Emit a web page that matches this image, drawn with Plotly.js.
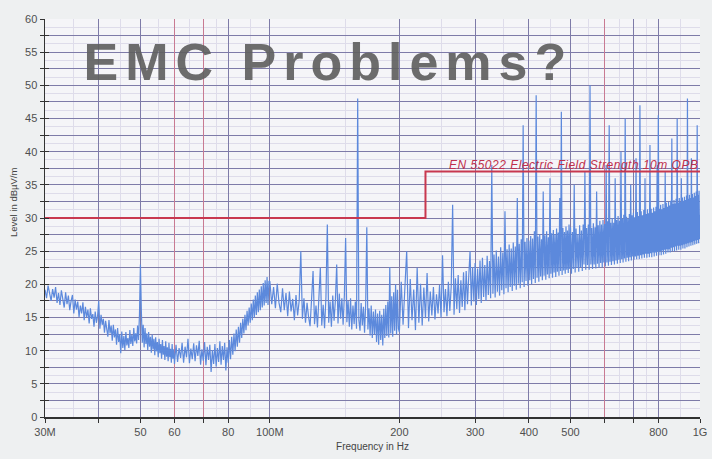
<!DOCTYPE html>
<html>
<head>
<meta charset="utf-8">
<script src="https://cdn.plot.ly/plotly-3.0.1.min.js"></script>
<style>
html,body{margin:0;padding:0;background:#eef0f1;}
#chart{width:712px;height:459px;}
.annotation[data-index="0"] .annotation-text{letter-spacing:7px;}
.annotation[data-index="1"] .annotation-text{letter-spacing:0.5px;}
</style>
</head>
<body>
<div id="chart"></div>
<script>
// ---- data (frequencies in MHz, levels in dBµV/m) ----
const freqMHz = [
30,30.25,30.5,30.75,31,31.25,31.5,31.75,32,32.25,
32.5,32.75,33,33.25,33.5,33.75,34,34.25,34.5,34.75,
35,35.25,35.5,35.75,36,36.25,36.5,36.75,37,37.25,
37.5,37.75,38,38.25,38.5,38.75,39,39.25,39.5,39.75,
40,40.25,40.5,40.75,41,41.25,41.5,41.75,42,42.25,
42.5,42.75,43,43.25,43.5,43.75,44,44.25,44.5,44.75,
45,45.25,45.5,45.75,46,46.25,46.5,46.75,47,47.25,
47.5,47.75,48,48.25,48.5,48.75,49,49.25,49.5,49.75,
50,50.25,50.5,50.75,51,51.25,51.5,51.75,52,52.25,
52.5,52.75,53,53.25,53.5,53.75,54,54.25,54.5,54.75,
55,55.25,55.5,55.75,56,56.25,56.5,56.75,57,57.25,
57.5,57.75,58,58.25,58.5,58.75,59,59.25,59.5,59.75,
60,
60.5,61,61.5,62,62.5,63,63.5,64,64.5,65,
65.5,66,66.5,67,67.5,68,68.5,69,69.5,70,
70.5,71,71.5,72,72.5,73,73.5,74,74.5,75,
75.5,76,76.5,77,77.5,78,78.5,79,79.5,80,
80.5,81,81.5,82,82.5,83,83.5,84,84.5,85,
85.5,86,86.5,87,87.5,88,88.5,89,89.5,90,
90.5,91,91.5,92,92.5,93,93.5,94,94.5,95,
95.5,96,96.5,97,97.5,98,98.5,99,99.5,
100,101,102,103,104,105,106,107,108,109,
110,111,112,113,114,115,116,117,118,119,
120,121,122,123,124,125,126,127,128,129,
130,131,132,133,134,135,136,137,138,139,
140,141,142,143,144,145,146,147,148,149,
150,151,152,153,154,155,156,157,158,159,
160,161,162,163,164,165,166,167,168,169,
170,171,172,173,174,175,176,177,178,179,
180,181,182,183,184,185,186,187,188,189,
190,191,192,193,194,195,196,197,198,199,
200,202,204,206,208,210,212,214,216,218,
220,222,224,226,228,230,232,234,236,238,
240,242,244,246,248,250,252,254,256,258,
260,262,264,266,268,270,272,274,276,278,
280,282,284,286,288,290,292,294,296,298,
300,302,304,306,308,310,312,314,316,318,
320,322,324,326,328,330,332,334,336,338,
340,342,344,346,348,350,352,354,356,358,
360,362,364,366,368,370,372,374,376,378,
380,382,384,386,388,390,392,394,396,398,
400,402,404,406,408,410,412,414,416,418,
420,422,424,426,428,430,432,434,436,438,
440,442,444,446,448,450,452,454,456,458,
460,462,464,466,468,470,472,474,476,478,
480,482,484,486,488,490,492,494,496,498,
500,502.5,505,507.5,510,512.5,515,517.5,520,522.5,
525,527.5,530,532.5,535,537.5,540,542.5,545,547.5,
550,552.5,555,557.5,560,562.5,565,567.5,570,572.5,
575,577.5,580,582.5,585,587.5,590,592.5,595,597.5,
600,602.5,605,607.5,610,612.5,615,617.5,620,622.5,
625,627.5,630,632.5,635,637.5,640,642.5,645,647.5,
650,652.5,655,657.5,660,662.5,665,667.5,670,672.5,
675,677.5,680,682.5,685,687.5,690,692.5,695,697.5,
700,702.5,705,707.5,710,712.5,715,717.5,720,722.5,
725,727.5,730,732.5,735,737.5,740,742.5,745,747.5,
750,752.5,755,757.5,760,762.5,765,767.5,770,772.5,
775,777.5,780,782.5,785,787.5,790,792.5,795,797.5,
800,802.5,805,807.5,810,812.5,815,817.5,820,822.5,
825,827.5,830,832.5,835,837.5,840,842.5,845,847.5,
850,852.5,855,857.5,860,862.5,865,867.5,870,872.5,
875,877.5,880,882.5,885,887.5,890,892.5,895,897.5,
900,902.5,905,907.5,910,912.5,915,917.5,920,922.5,
925,927.5,930,932.5,935,937.5,940,942.5,945,947.5,
950,952.5,955,957.5,960,962.5,965,967.5,970,972.5,
975,977.5,980,982.5,985,987.5,990,992.5,995,997.5,
1000
];
const levelDb = [
19.2,17.9,19.8,18.4,17.5,19.3,18.0,19.6,17.2,18.7,
16.9,19.1,17.6,16.5,18.8,17.0,18.3,16.1,17.5,18.4,
15.6,17.7,16.2,17.4,15.1,16.8,15.6,17.3,14.6,16.6,
15.0,16.2,14.1,16.4,14.8,15.5,13.6,15.9,14.2,15.2,
17.5,13.3,15.4,13.9,14.8,12.7,14.5,13.2,12.1,14.6,
12.6,13.8,11.5,13.9,12.0,13.2,10.9,13.4,11.3,12.5,
9.6,12.9,10.4,12.2,10.1,12.8,10.8,11.9,10.4,13.1,
11.0,12.4,10.7,13.4,11.4,12.6,11.1,13.8,11.6,15.5,
23.0,16.0,11.2,13.9,10.5,13.4,11.0,12.6,10.1,12.8,
10.6,12.1,9.7,12.4,10.2,11.8,9.3,12.0,9.9,11.3,
9.0,11.8,9.6,11.0,8.8,11.6,9.4,10.7,8.6,11.4,
9.1,10.5,8.4,11.2,9.0,10.3,8.2,11.0,8.8,10.2,
8.0,
10.9,8.3,10.4,8.9,11.2,8.2,10.6,9.0,11.8,8.1,
10.3,8.7,11.1,8.4,10.8,9.2,11.5,7.9,10.2,8.5,
11.3,7.8,10.6,8.6,10.9,6.8,10.1,8.0,11.0,7.6,
10.4,8.3,11.4,7.9,10.7,8.6,11.2,7.0,10.5,8.2,
11.6,8.7,12.1,9.4,12.6,9.9,13.2,10.6,13.6,11.2,
14.2,11.9,14.8,12.6,15.4,13.1,16.0,13.8,16.5,14.2,
17.1,14.6,17.7,15.0,18.3,15.4,18.8,15.8,19.2,16.1,
19.7,16.5,20.2,16.8,20.6,17.2,21.1,16.9,20.5,
20.4,17.0,19.6,16.4,20.1,17.2,15.8,19.4,16.1,18.7,
15.2,18.9,15.9,17.8,14.6,18.4,15.3,17.6,25.0,14.8,
17.9,14.2,17.2,15.1,13.7,17.8,22.0,14.0,16.8,13.5,
17.5,22.5,13.8,16.9,13.4,18.1,29.0,14.2,17.4,13.6,
18.3,14.5,17.6,23.0,14.1,18.6,14.8,17.9,13.9,18.4,
27.0,14.3,17.5,13.6,17.9,13.2,16.8,14.0,17.4,13.3,
48.0,14.6,13.0,17.2,13.8,16.6,12.7,17.0,28.6,13.2,
16.4,12.3,16.8,11.9,15.9,12.4,16.2,11.3,15.6,10.9,
16.0,11.6,15.4,10.8,16.3,11.9,16.9,12.2,17.4,12.0,
22.6,12.6,18.2,12.1,18.8,13.0,20.0,12.4,19.2,13.3,
12.8,20.4,13.9,19.6,25.0,13.4,20.8,14.6,19.2,13.1,
22.5,14.2,20.1,13.8,19.5,14.9,21.7,14.4,18.9,15.3,
19.6,14.7,18.5,15.6,19.9,15.0,24.4,15.8,19.3,15.2,
20.4,16.0,19.7,32.0,15.4,20.9,16.3,21.4,15.7,20.6,
16.6,21.8,16.1,22.0,17.0,21.3,25.0,16.8,22.6,17.4,
23.2,16.9,22.4,17.8,23.6,17.2,24.0,18.1,22.9,17.5,
24.3,18.4,23.5,17.9,38.0,18.6,24.5,18.0,25.1,18.9,
24.2,18.3,25.6,19.1,24.8,18.5,31.0,19.4,25.3,18.8,
26.0,19.6,25.4,19.0,26.3,19.8,25.7,19.2,33.0,20.1,
26.1,19.4,26.8,20.3,44.0,19.6,26.4,20.5,27.0,19.8,
26.6,20.6,27.3,20.0,26.9,20.8,28.0,20.2,48.5,21.0,
27.2,20.4,27.6,21.2,26.8,20.6,34.0,21.3,27.4,20.7,
28.0,21.5,27.1,20.9,36.0,21.6,27.7,21.0,28.2,21.8,
27.5,21.1,28.4,21.9,27.8,21.3,33.0,22.0,46.0,21.4,
28.5,22.1,27.9,21.6,28.7,22.2,28.1,21.7,29.0,22.3,
28.6,21.6,27.9,22.3,35.0,21.8,28.4,22.5,27.6,21.9,
28.9,22.6,28.1,22.0,29.0,23.0,37.0,22.2,28.5,22.9,
29.0,22.2,50.0,23.0,28.5,22.3,29.2,23.0,28.6,22.4,
34.0,23.1,28.9,22.5,29.6,23.2,29.0,22.6,29.7,23.3,
29.1,22.7,38.0,23.3,29.5,22.8,44.0,23.4,29.3,22.9,
30.0,23.5,29.3,23.0,36.0,23.6,29.7,23.1,30.3,23.7,
29.6,23.2,40.0,23.8,29.9,23.3,30.5,23.9,45.0,23.4,
30.2,24.0,29.9,23.5,30.6,24.1,35.0,23.6,30.4,24.2,
30.8,23.7,30.1,24.2,39.0,23.8,30.9,24.3,30.3,23.8,
47.0,24.4,31.0,23.9,30.4,24.5,31.2,24.0,36.0,24.6,
30.6,24.0,31.3,24.6,30.7,24.1,41.0,24.7,31.4,24.1,
30.8,24.8,31.6,24.2,31.0,24.8,31.7,24.3,38.0,24.9,
45.5,24.4,31.4,25.0,32.0,24.4,31.3,25.1,32.1,24.5,
31.5,25.2,37.0,24.6,32.3,25.3,31.7,24.8,32.4,25.3,
31.9,24.8,32.6,25.5,42.0,25.0,32.1,25.6,32.7,25.0,
32.2,25.7,32.9,25.1,45.0,25.8,32.3,25.2,33.0,25.8,
32.4,25.2,36.0,25.9,33.1,25.4,32.6,26.0,33.2,25.4,
32.7,26.1,33.4,25.6,48.0,26.2,32.9,25.7,33.5,26.3,
33.0,25.8,39.0,26.4,33.6,25.9,33.1,26.5,33.8,26.0,
33.3,26.6,34.0,26.1,44.0,26.7,33.5,26.2,34.1,26.8,
30.5
];
const limitFreq = [30, 230, 230, 1000];
const limitLevel = [30, 30, 37, 37];
const xTickVals = [30,40,50,60,70,80,100,200,300,400,500,600,700,800,1000];
const xTickText = ['30M','','50','60','','80','100M','200','300','400','500','','','800','1G'];
const xRedGridVals = [60,70,600];
const xFaintGridVals = [35,45,55,65,75,90,150,250,350,450,550,650,750,900];
const yTickVals = [0,2.5,5,7.5,10,12.5,15,17.5,20,22.5,25,27.5,30,32.5,35,37.5,40,42.5,45,47.5,50,52.5,55,57.5,60];
const yTickText = ['0','','5','','10','','15','','20','','25','','30','','35','','40','','45','','50','','55','','60'];
const titleText = 'EMC Problems?';
const limitLabel = 'EN 55022 Electric Field Strength 10m QPB';
const yTitleText = 'Level in dBµV/m';
const xTitleText = 'Frequency in Hz';

const FONT = 'Liberation Sans, Arial, sans-serif';
const xr = [Math.log10(30), Math.log10(1000)];
const yr = [0, 60];

const traces = [
  {x: freqMHz, y: levelDb, type: 'scatter', mode: 'lines',
   line: {color: '#5c89dc', width: 1.2}, hoverinfo: 'skip', xaxis: 'x', yaxis: 'y'},
  {x: limitFreq, y: limitLevel, type: 'scatter', mode: 'lines',
   line: {color: '#c8384f', width: 2}, hoverinfo: 'skip', xaxis: 'x2', yaxis: 'y2'}
];

const layout = {
  width: 712, height: 459,
  margin: {l: 45, r: 12, t: 19, b: 42},
  paper_bgcolor: '#eef0f1',
  plot_bgcolor: '#f5f5f8',
  showlegend: false,
  font: {family: FONT, color: '#4a4a4a', size: 11},
  xaxis: {
    type: 'log', range: xr, tickmode: 'array', tickvals: xTickVals, ticktext: xTickText,
    ticks: 'outside', ticklen: 4, tickcolor: '#333', tickfont: {size: 11, color: '#4f4f4f'},
    showgrid: true, gridcolor: '#7e7ba8', gridwidth: 1,
    minor: {tickvals: xFaintGridVals, showgrid: true, gridcolor: '#dedcea', ticks: ''},
    showline: true, linecolor: '#333', linewidth: 1.5, zeroline: false,
    title: {text: xTitleText, font: {size: 10, color: '#444'}, standoff: 6}
  },
  xaxis2: {
    type: 'log', range: xr, overlaying: 'x', anchor: 'y2', tickmode: 'array', tickvals: xRedGridVals,
    showticklabels: false, ticks: '', showgrid: true, gridcolor: '#c87a92', gridwidth: 1,
    showline: false, zeroline: false
  },
  yaxis: {
    range: yr, tickmode: 'array', tickvals: yTickVals, ticktext: yTickText,
    ticks: 'outside', ticklen: 4, tickcolor: '#333', tickfont: {size: 11, color: '#4f4f4f'},
    showgrid: true, gridcolor: '#7e7ba8', gridwidth: 1,
    minor: {dtick: 1.25, tick0: 0, showgrid: true, gridcolor: '#dedcea', ticks: ''},
    showline: true, linecolor: '#333', linewidth: 1.5, zeroline: false
  },
  yaxis2: {
    range: yr, overlaying: 'y', anchor: 'x2', side: 'left', tickmode: 'array', tickvals: yTickVals,
    showticklabels: false, ticks: 'inside', ticklen: 4, tickcolor: '#333',
    showgrid: false, showline: false, zeroline: false
  },
  annotations: [
    {text: titleText, xref: 'paper', yref: 'paper', x: 0.125, y: 0.893,
     xanchor: 'left', yanchor: 'middle', showarrow: false,
     font: {family: FONT, size: 52, weight: 'bold', color: 'rgba(96,96,96,0.92)'}},
    {text: limitLabel, xref: 'paper', yref: 'y', x: 1.0, y: 37,
     xanchor: 'right', yanchor: 'bottom', xshift: -10, yshift: -2, showarrow: false,
     font: {family: FONT, size: 12, style: 'italic', color: '#c0304c'}},
    {text: yTitleText, xref: 'paper', yref: 'paper', x: -0.049, y: 0.54,
     xanchor: 'center', yanchor: 'middle', textangle: -90, showarrow: false,
     font: {family: FONT, size: 9.5, color: '#444'}}
  ]
};

Plotly.newPlot('chart', traces, layout, {staticPlot: true, displayModeBar: false});
</script>
</body>
</html>
